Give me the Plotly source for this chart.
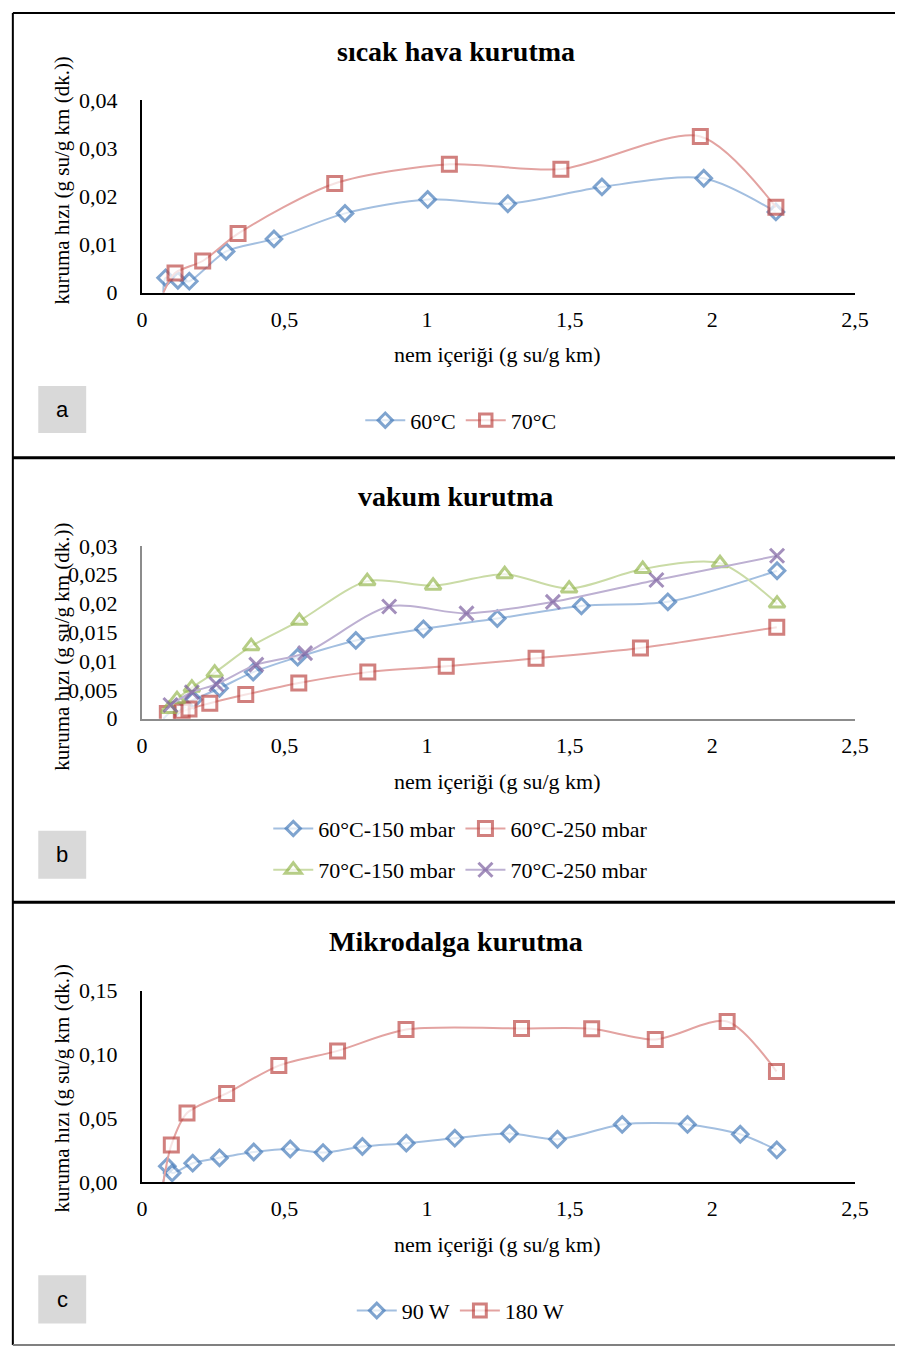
import plotly.graph_objects as go

W, H = 909, 1360

# ---------------- data ----------------
# Panel a: sıcak hava kurutma
a_60_x = [0.075, 0.083, 0.126, 0.166, 0.295, 0.463, 0.712, 1.002, 1.283, 1.613, 1.970, 2.223]
a_60_y = [0.0, 0.0031, 0.0026, 0.0024, 0.0086, 0.0112, 0.0165, 0.0194, 0.0185, 0.0220, 0.0238, 0.0168]
a_70_x = [0.075, 0.116, 0.213, 0.337, 0.676, 1.078, 1.469, 1.958, 2.223]
a_70_y = [0.0, 0.0041, 0.0066, 0.0123, 0.0227, 0.0267, 0.0257, 0.0325, 0.0178]

# Panel b: vakum kurutma
b_60_150_x = [0.075, 0.120, 0.181, 0.272, 0.390, 0.546, 0.750, 0.987, 1.246, 1.541, 1.844, 2.227]
b_60_150_y = [0.0, 0.0020, 0.0033, 0.0053, 0.0081, 0.0107, 0.0136, 0.0156, 0.0174, 0.0196, 0.0203, 0.0257]
b_60_250_x = [0.089, 0.141, 0.165, 0.238, 0.364, 0.550, 0.792, 1.067, 1.382, 1.748, 2.226]
b_60_250_y = [0.0009, 0.0013, 0.0017, 0.0027, 0.0042, 0.0062, 0.0081, 0.0091, 0.0105, 0.0123, 0.0159]
b_70_150_x = [0.095, 0.123, 0.175, 0.255, 0.383, 0.552, 0.790, 1.021, 1.272, 1.498, 1.756, 2.027, 2.227]
b_70_150_y = [0.0017, 0.0034, 0.0054, 0.0080, 0.0126, 0.0170, 0.0239, 0.0231, 0.0251, 0.0226, 0.0260, 0.0270, 0.0200]
b_70_250_x = [0.100, 0.175, 0.261, 0.401, 0.572, 0.867, 1.138, 1.441, 1.804, 2.227]
b_70_250_y = [0.0024, 0.0046, 0.0060, 0.0094, 0.0114, 0.0195, 0.0183, 0.0203, 0.0241, 0.0283]

# Panel c: Mikrodalga kurutma
c_90_x = [0.075, 0.089, 0.106, 0.178, 0.272, 0.392, 0.520, 0.635, 0.773, 0.927, 1.097, 1.289,
          1.457, 1.684, 1.913, 2.098, 2.226]
c_90_y = [0.0, 0.0125, 0.0072, 0.0148, 0.0190, 0.0236, 0.0259, 0.0231, 0.0279, 0.0305, 0.0344,
          0.0381, 0.0336, 0.0452, 0.0452, 0.0375, 0.0252]
c_180_x = [0.075, 0.103, 0.158, 0.297, 0.480, 0.686, 0.926, 1.331, 1.577, 1.800, 2.052, 2.225]
c_180_y = [0.0, 0.0290, 0.0541, 0.0695, 0.0913, 0.1028, 0.1195, 0.1204, 0.1202, 0.1118, 0.1259, 0.0867]

x_tickvals = [0, 0.5, 1, 1.5, 2, 2.5]
x_ticktext = ["0", "0,5", "1", "1,5", "2", "2,5"]
a_tickvals = [0, 0.01, 0.02, 0.03, 0.04]
a_ticktext = ["0", "0,01", "0,02", "0,03", "0,04"]
b_tickvals = [0, 0.005, 0.01, 0.015, 0.02, 0.025, 0.03]
b_ticktext = ["0", "0,005", "0,01", "0,015", "0,02", "0,025", "0,03"]
c_tickvals = [0, 0.05, 0.10, 0.15]
c_ticktext = ["0,00", "0,05", "0,10", "0,15"]

titles = ["sıcak hava kurutma", "vakum kurutma", "Mikrodalga kurutma"]
panel_labels = ["a", "b", "c"]
y_title = "kuruma hızı (g su/g km (dk.))"
x_title = "nem içeriği (g su/g km)"

# ---------------- styles ----------------
BLUE, BLUE_L = "#4a7ebb", "#a3bfe0"
RED, RED_L = "#be4b48", "#e3a3a1"
GREEN, GREEN_L = "#98b954", "#cadba6"
PURPLE, PURPLE_L = "#7d60a0", "#bdb0d2"
SERIF = "Liberation Serif"
FS = 22


def px(x):
    return x / W


def py(y):
    return 1 - y / H


def sizes(n, s, hide_first):
    arr = [s] * n
    if hide_first:
        arr[0] = 0
    return arr


def trace(x, y, name, sym, mcol, lcol, s, xa, ya, legend, hide_first=False):
    return go.Scatter(
        x=x, y=y, name=name, mode="lines+markers",
        line=dict(color=lcol, width=2, shape="spline", smoothing=0.8),
        marker=dict(symbol=sym, size=sizes(len(x), s, hide_first), color="white",
                    line=dict(color=mcol, width=3)),
        xaxis=xa, yaxis=ya, legend=legend, cliponaxis=True,
    )


fig = go.Figure()
# panel a
fig.add_trace(trace(a_60_x, a_60_y, "60°C", "diamond", BLUE, BLUE_L, 12, "x", "y", "legend", True))
fig.add_trace(trace(a_70_x, a_70_y, "70°C", "square", RED, RED_L, 14, "x", "y", "legend", True))
# panel b
fig.add_trace(trace(b_60_150_x, b_60_150_y, "60°C-150 mbar", "diamond", BLUE, BLUE_L, 12, "x2", "y2", "legend2", True))
fig.add_trace(trace(b_60_250_x, b_60_250_y, "60°C-250 mbar", "square", RED, RED_L, 14, "x2", "y2", "legend2"))
fig.add_trace(trace(b_70_150_x, b_70_150_y, "70°C-150 mbar", "triangle-up", GREEN, GREEN_L, 14, "x2", "y2", "legend3"))
fig.add_trace(trace(b_70_250_x, b_70_250_y, "70°C-250 mbar", "x-thin", PURPLE, PURPLE_L, 14, "x2", "y2", "legend3"))
# panel c
fig.add_trace(trace(c_90_x, c_90_y, "90 W", "diamond", BLUE, BLUE_L, 12, "x3", "y3", "legend4", True))
fig.add_trace(trace(c_180_x, c_180_y, "180 W", "square", RED, RED_L, 14, "x3", "y3", "legend4", True))

xdom = [px(139), px(868)]
panels = [
    # (y px of axis bottom, y px of axis top, yrange, tickvals, ticktext, axis colour)
    (286, 90, [0, 0.04], a_tickvals, a_ticktext, "black"),
    (720, 544, [0, 0.03], b_tickvals, b_ticktext, "#8c8c8c"),
    (1192, 997, [0, 0.15], c_tickvals, c_ticktext, "black"),
]

layout = dict(
    autosize=True, margin=dict(l=0, r=0, t=0, b=0, pad=0),
    paper_bgcolor="white", plot_bgcolor="white",
    font=dict(family=SERIF, size=FS, color="black"),
    shapes=[], annotations=[],
)

for i, (yb, yt, yr, tv, tt, acol) in enumerate(panels):
    sfx = "" if i == 0 else str(i + 1)
    layout["xaxis" + sfx] = dict(
        domain=xdom, range=[0, 2.5], tickvals=x_tickvals, ticktext=x_ticktext,
        showgrid=False, zeroline=False, showline=True, linecolor=acol, linewidth=2,
        ticks="outside", ticklen=6, tickcolor="rgba(0,0,0,0)",
        anchor="y" + sfx, tickfont=dict(size=FS),
    )
    layout["yaxis" + sfx] = dict(
        domain=[py(yb), py(yt)], range=yr, tickvals=tv, ticktext=tt,
        showgrid=False, zeroline=False, showline=True, linecolor=acol, linewidth=2,
        ticks="outside", ticklen=18, tickcolor="rgba(0,0,0,0)",
        anchor="x" + sfx, tickfont=dict(size=FS),
    )

# titles, axis titles
title_y = [40, 494, 947]
xt_y = [349, 784, 1256]
yt_y = [172, 647, 1097]
for i in range(3):
    layout["annotations"].append(dict(
        text="<b>" + titles[i] + "</b>", x=px(460), y=py(title_y[i]), xref="paper", yref="paper",
        showarrow=False, xanchor="center", yanchor="middle", font=dict(family=SERIF, size=28)))
    layout["annotations"].append(dict(
        text=x_title, x=px(503), y=py(xt_y[i]), xref="paper", yref="paper",
        showarrow=False, xanchor="center", yanchor="middle", font=dict(family=SERIF, size=FS)))
    layout["annotations"].append(dict(
        text=y_title, x=px(57), y=py(yt_y[i]), xref="paper", yref="paper", textangle=-90,
        showarrow=False, xanchor="center", yanchor="middle", font=dict(family=SERIF, size=21)))

# panel label boxes
label_boxes = [(381, 429), (834, 883), (1287, 1336)]
for lab, (y0, y1) in zip(panel_labels, label_boxes):
    layout["shapes"].append(dict(type="rect", xref="paper", yref="paper",
                                 x0=px(33), x1=px(82), y0=py(y1), y1=py(y0),
                                 fillcolor="#d9d9d9", line=dict(width=0), layer="below"))
    layout["annotations"].append(dict(
        text=lab, x=px(57.5), y=py((y0 + y1) / 2), xref="paper", yref="paper",
        showarrow=False, xanchor="center", yanchor="middle",
        font=dict(family="Liberation Sans", size=22, color="black")))

# panel borders
border = dict(color="black", width=2)
layout["shapes"] += [
    dict(type="line", xref="paper", yref="paper", x0=px(7), x1=px(7), y0=py(1358), y1=py(1), line=border),
    dict(type="line", xref="paper", yref="paper", x0=px(7), x1=1.0, y0=py(1), y1=py(1), line=border),
    dict(type="line", xref="paper", yref="paper", x0=px(7), x1=1.0, y0=py(454), y1=py(454), line=dict(color="black", width=3)),
    dict(type="line", xref="paper", yref="paper", x0=px(7), x1=1.0, y0=py(907), y1=py(907), line=dict(color="black", width=3)),
    dict(type="line", xref="paper", yref="paper", x0=px(7), x1=1.0, y0=py(1358), y1=py(1358), line=dict(color="#808080", width=2)),
]

leg_common = dict(orientation="h", xanchor="center", yanchor="middle", bgcolor="rgba(0,0,0,0)",
                  font=dict(family=SERIF, size=FS, color="black"), itemwidth=40,
                  itemclick=False, itemdoubleclick=False)
layout["legend"] = dict(leg_common, x=px(465), y=py(416))
layout["legend2"] = dict(leg_common, x=px(465), y=py(832))
layout["legend3"] = dict(leg_common, x=px(465), y=py(874))
layout["legend4"] = dict(leg_common, x=px(465), y=py(1323))
layout["showlegend"] = True

fig.update_layout(**layout)
fig.write_html(
    "out.html",
    default_width="100vw",
    default_height="100vh",
    config=dict(displayModeBar=False, responsive=True),
    post_script="document.body.style.margin='0';document.body.style.overflow='hidden';"
                "document.documentElement.style.overflow='hidden';"
                "window.dispatchEvent(new Event('resize'));",
)
